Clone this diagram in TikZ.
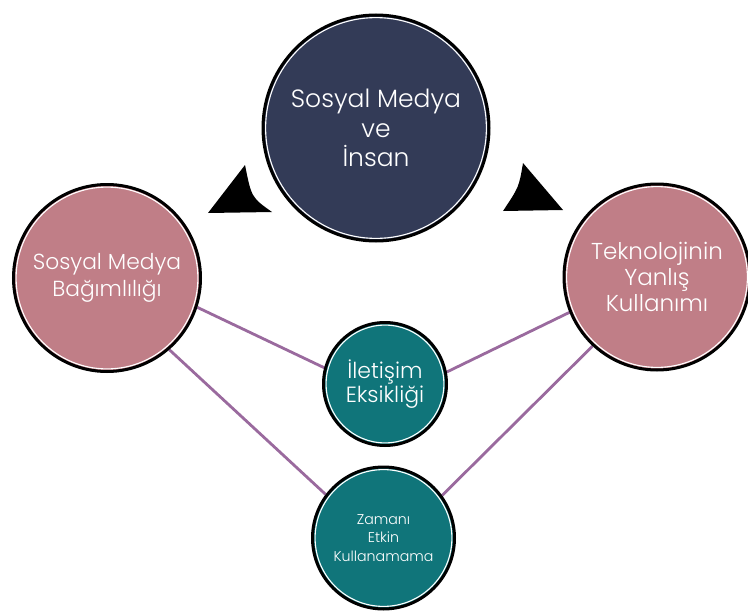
\documentclass[tikz,border=0pt]{standalone}
\usepackage{fontspec}
\setmainfont{Poppins}[UprightFont=* Light]
\usetikzlibrary{backgrounds}
\definecolor{navy}{HTML}{333B57}
\definecolor{rose}{HTML}{C07E87}
\definecolor{teal2}{HTML}{10757A}
\definecolor{plum}{HTML}{9A6A9E}
\tikzset{
  bubble/.style={circle, draw=black, line width=3pt, inner sep=0pt, text=white, align=center},
  link/.style={draw=plum, line width=2.8pt},
  ring/.style={draw=white, line width=1.1pt},
  wedge/.style={fill=black, draw=none}
}
\begin{document}
\begin{tikzpicture}[x=1pt,y=-1pt]
\useasboundingbox (0,0) rectangle (748,613);
% circles
\node[bubble, fill=navy, minimum size=226pt, font=\fontsize{25}{29.5}\selectfont] (top) at (376,128) {Sosyal Medya\\ve\\İnsan};
\draw[ring] (top.center) circle[radius=110.4];
\node[bubble, fill=rose, minimum size=187pt, font=\fontsize{21.8}{27}\selectfont] (left) at (107,278) {Sosyal Medya\\Bağımlılığı};
\draw[ring] (left.center) circle[radius=90.9];
\node[bubble, fill=rose, minimum size=186pt, font=\fontsize{23}{26}\selectfont] (right) at (657,277) {Teknolojinin\\Yanlış\\Kullanımı};
\draw[ring] (right.center) circle[radius=90.4];
\node[bubble, fill=teal2, minimum size=123pt, font=\fontsize{22}{21.5}\selectfont] (mid) at (385,384) {İletişim\\Eksikliği};
\draw[ring] (mid.center) circle[radius=58.9];
\node[bubble, fill=teal2, minimum size=142pt, font=\fontsize{14.2}{18.5}\selectfont] (bot) at (383.5,538) {Zamanı\\Etkin\\Kullanamama};
\draw[ring] (bot.center) circle[radius=68.4];
% connectors
\begin{pgfonlayer}{background}
\draw[link] (left.-18) -- (mid.165);
\draw[link] (left.-49) -- (bot.143);
\draw[link] (right.202.5) -- (mid.11.7);
\draw[link] (right.227.6) -- (bot.36);
\end{pgfonlayer}
% triangles
\coordinate (la) at (245,165);
\coordinate (lb) at (208,213);
\coordinate (lc) at (272,212);
\fill[wedge] (la) .. controls (251.5,197.5) .. (lc) -- (lb) -- cycle;
\coordinate (ra) at (523,163);
\coordinate (rb) at (503,211);
\coordinate (rc) at (563,210);
\fill[wedge] (ra) .. controls (519,187) .. (rb) -- (rc) -- cycle;
\end{tikzpicture}
\end{document}
